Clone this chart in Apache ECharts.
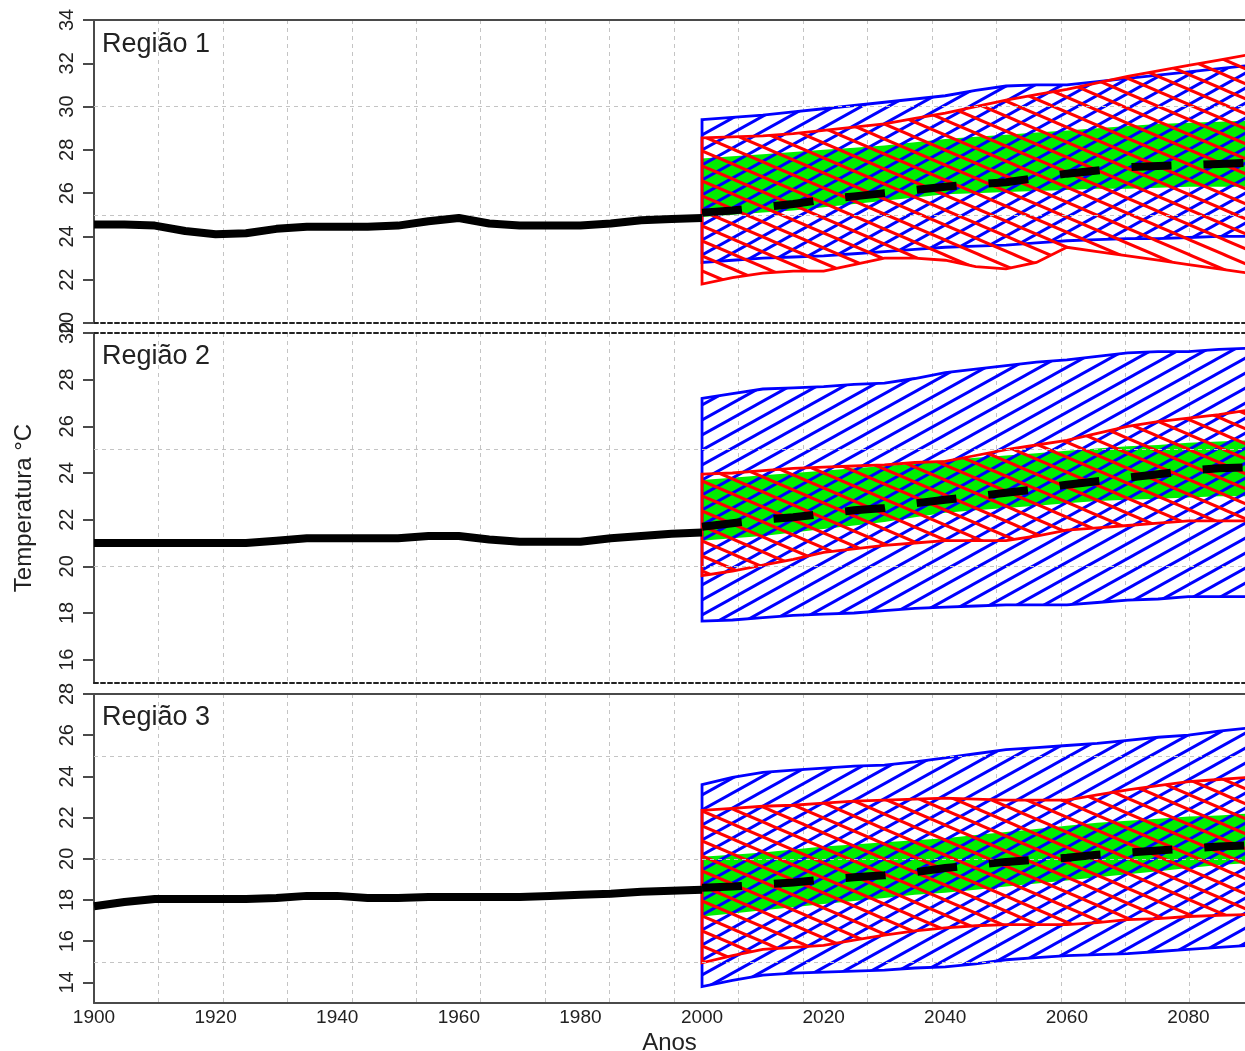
<!DOCTYPE html>
<html><head><meta charset="utf-8">
<script src="https://cdn.jsdelivr.net/npm/echarts/dist/echarts.min.js"></script>
<style>html,body{margin:0;padding:0;background:#fff}#c{width:1245px;height:1051px}</style>
</head><body><div id="c"></div>
<script>
// ---------- DATA ----------
const histYears = [1900,1905,1910,1915,1920,1925,1930,1935,1940,1945,1950,1955,1960,1965,1970,1975,1980,1985,1990,1995,2000];
const projYears = [2000,2005,2010,2015,2020,2025,2030,2035,2040,2045,2050,2055,2060,2065,2070,2075,2080,2085,2090];
const xTickYears = [1900,1920,1940,1960,1980,2000,2020,2040,2060,2080];

// Região 1
const hist1  = [24.55,24.55,24.5,24.25,24.1,24.15,24.35,24.45,24.45,24.45,24.5,24.7,24.85,24.6,24.5,24.5,24.5,24.6,24.75,24.8,24.85];
const mean1  = [25.1,25.2,25.35,25.5,25.7,25.85,26.0,26.15,26.3,26.4,26.5,26.7,26.9,27.05,27.2,27.25,27.3,27.35,27.4];
const green1Lo = [24.9,25.0,25.1,25.2,25.35,25.5,25.65,25.8,25.95,26.0,26.05,26.1,26.15,26.2,26.2,26.25,26.3,26.3,26.3];
const green1Hi = [27.6,27.7,27.8,27.9,28.0,28.1,28.2,28.35,28.5,28.6,28.7,28.8,28.9,29.0,29.1,29.2,29.25,29.3,29.35];
const blue1Lo = [22.8,22.9,23.0,23.05,23.1,23.2,23.3,23.4,23.5,23.55,23.6,23.7,23.8,23.85,23.9,23.9,23.95,24.0,24.0];
const blue1Hi = [29.4,29.5,29.6,29.75,29.9,30.05,30.2,30.35,30.5,30.75,30.95,31.0,31.0,31.15,31.3,31.45,31.6,31.75,31.9];
const red1Lo  = [21.8,22.1,22.3,22.4,22.4,22.7,23.0,23.0,22.9,22.6,22.5,22.8,23.5,23.3,23.1,22.9,22.7,22.5,22.3];
const red1Hi  = [28.55,28.6,28.65,28.75,28.9,29.05,29.2,29.45,29.7,30.0,30.3,30.55,30.8,31.1,31.4,31.65,31.9,32.15,32.4];
const yTicks1 = [20,22,24,26,28,30,32,34];
const hGrid1 = [25,30];

// Região 2
const hist2  = [21.0,21.0,21.0,21.0,21.0,21.0,21.1,21.2,21.2,21.2,21.2,21.3,21.3,21.15,21.05,21.05,21.05,21.2,21.3,21.4,21.45];
const mean2  = [21.7,21.85,22.0,22.1,22.25,22.4,22.5,22.7,22.85,23.0,23.15,23.3,23.5,23.65,23.8,23.95,24.1,24.2,24.25];
const green2Lo = [21.1,21.2,21.3,21.45,21.6,21.75,21.9,22.1,22.3,22.4,22.5,22.6,22.7,22.8,22.85,22.9,22.95,23.0,23.0];
const green2Hi = [23.7,23.8,23.9,24.0,24.1,24.2,24.3,24.4,24.55,24.65,24.75,24.85,24.95,25.05,25.15,25.2,25.3,25.35,25.4];
const blue2Lo = [17.65,17.7,17.8,17.9,17.95,18.0,18.1,18.2,18.25,18.3,18.35,18.35,18.35,18.45,18.55,18.6,18.7,18.7,18.7];
const blue2Hi = [27.2,27.4,27.6,27.65,27.7,27.8,27.85,28.05,28.3,28.45,28.6,28.75,28.85,29.0,29.15,29.2,29.2,29.3,29.35];
const red2Lo  = [19.6,19.8,20.05,20.3,20.6,20.75,20.9,21.0,21.1,21.1,21.1,21.3,21.55,21.65,21.75,21.85,21.95,21.95,21.95];
const red2Hi  = [23.95,24.0,24.1,24.2,24.25,24.3,24.35,24.45,24.5,24.75,25.0,25.2,25.4,25.7,26.0,26.2,26.35,26.5,26.7];
const yTicks2 = [16,18,20,22,24,26,28,30];
const hGrid2 = [20,25];

// Região 3
const hist3  = [17.7,17.9,18.05,18.05,18.05,18.05,18.1,18.2,18.2,18.1,18.1,18.15,18.15,18.15,18.15,18.2,18.25,18.3,18.4,18.45,18.5];
const mean3  = [18.6,18.65,18.75,18.85,19.0,19.1,19.2,19.35,19.55,19.7,19.85,19.95,20.05,20.2,20.3,20.4,20.5,20.6,20.65];
const green3Lo = [17.2,17.35,17.5,17.65,17.8,17.95,18.1,18.25,18.35,18.5,18.65,18.8,18.95,19.1,19.25,19.4,19.55,19.7,19.8];
const green3Hi = [20.1,20.2,20.3,20.45,20.6,20.7,20.8,20.9,21.0,21.15,21.3,21.45,21.6,21.75,21.85,21.95,22.05,22.1,22.2];
const blue3Lo = [13.8,14.1,14.35,14.45,14.5,14.55,14.6,14.7,14.75,14.9,15.1,15.2,15.3,15.35,15.4,15.5,15.6,15.7,15.8];
const blue3Hi = [23.6,23.95,24.2,24.3,24.4,24.5,24.55,24.7,24.9,25.1,25.3,25.4,25.5,25.6,25.75,25.9,26.0,26.2,26.35];
const red3Lo  = [14.95,15.3,15.6,15.7,15.8,16.05,16.3,16.5,16.65,16.75,16.8,16.8,16.8,16.9,17.05,17.1,17.2,17.25,17.3];
const red3Hi  = [22.35,22.45,22.55,22.6,22.7,22.8,22.85,22.9,22.95,22.9,22.85,22.85,22.85,23.1,23.35,23.55,23.75,23.85,23.95];
const yTicks3 = [14,16,18,20,22,24,26,28];
const hGrid3 = [15,20,25];

const panelNames = ['Região 1','Região 2','Região 3'];
// ---------- END DATA ----------

const panels = [
  {ymin:20, ymax:34, ticks:yTicks1, hgrid:hGrid1, hist:hist1, mean:mean1, gLo:green1Lo, gHi:green1Hi, bLo:blue1Lo, bHi:blue1Hi, rLo:red1Lo, rHi:red1Hi},
  {ymin:15, ymax:30, ticks:yTicks2, hgrid:hGrid2, hist:hist2, mean:mean2, gLo:green2Lo, gHi:green2Hi, bLo:blue2Lo, bHi:blue2Hi, rLo:red2Lo, rHi:red2Hi},
  {ymin:13, ymax:28, ticks:yTicks3, hgrid:hGrid3, hist:hist3, mean:mean3, gLo:green3Lo, gHi:green3Hi, bLo:blue3Lo, bHi:blue3Hi, rLo:red3Lo, rHi:red3Hi}
];

function hatch(color, w, h, up) {
  const c = document.createElement('canvas'); c.width = w; c.height = h;
  const g = c.getContext('2d'); g.strokeStyle = color; g.lineWidth = 3;
  for (let k = -1; k <= 1; k++) {
    g.beginPath();
    if (up) { g.moveTo(-2, h + k*h + 2*h/w); g.lineTo(w+2, k*h - 2*h/w); }
    else { g.moveTo(-2, k*h - 2*h/w); g.lineTo(w+2, h + k*h + 2*h/w); }
    g.stroke();
  }
  return c;
}
const bluePat = {image: hatch('#0000ff', 27, 15, true), repeat: 'repeat'};
const redPat  = {image: hatch('#ff0000', 35, 15, false), repeat: 'repeat'};

const FONT = 'Liberation Sans, Arial, sans-serif';
const AX = '#4a4a4a';
const XMIN = 1900, XMAX = 2089.3;
const boxes = [{top:20,height:303},{top:333,height:350},{top:694,height:309}];
const borderTop = ['solid','dashed','solid'];
const borderBottom = ['dashed','dashed','solid'];
const titleTops = [31, 343, 704];
const lineStyleFor = t => t === 'solid' ? {color:AX, width:2} : {color:'#222', width:2, type:[4,3]};

const grid = [], xAxis = [], yAxis = [], series = [], title = [];

function band(i, lo, hi, fill, stroke, z) {
  return {
    type:'custom', xAxisIndex:i*3, yAxisIndex:i, z:z, silent:true, data:[0],
    renderItem: function(params, api) {
      const pts = [];
      for (let k = 0; k < projYears.length; k++) pts.push(api.coord([projYears[k], hi[k]]));
      for (let k = projYears.length - 1; k >= 0; k--) pts.push(api.coord([projYears[k], lo[k]]));
      return {type:'polygon', shape:{points:pts},
        style: stroke ? {fill:fill, stroke:stroke, lineWidth:2.8, lineJoin:'miter'} : {fill:fill}};
    }
  };
}

panels.forEach((p, i) => {
  grid.push({left:94, right:0, top:boxes[i].top, height:boxes[i].height,
    containLabel:false, outerBoundsMode:'none'});
  xAxis.push({gridIndex:i, type:'value', min:XMIN, max:XMAX, interval:20, position:'bottom',
    axisLine:{show:true, onZero:false, lineStyle:lineStyleFor(borderBottom[i])},
    axisTick:{show:false}, splitLine:{show:false},
    axisLabel:{show:i===2, fontSize:19, color:'#222', fontFamily:FONT, margin:5,
      customValues: xTickYears, formatter: v => String(v)},
    name: i===2 ? 'Anos' : '', nameLocation:'middle', nameGap:28,
    nameTextStyle:{fontSize:24, color:'#222', fontFamily:FONT}});
  xAxis.push({gridIndex:i, type:'value', min:XMIN, max:XMAX, position:'top',
    axisLine:{show:true, onZero:false, lineStyle:lineStyleFor(borderTop[i])},
    axisTick:{show:false}, axisLabel:{show:false}, splitLine:{show:false}});
  xAxis.push({gridIndex:i, type:'value', min:0, max:XMAX-XMIN, interval:10.6, position:'bottom',
    axisLine:{show:false}, axisTick:{show:false}, axisLabel:{show:false},
    splitLine:{show:true, lineStyle:{color:'#c4c4c4', width:1, type:[4,4]}}});
  yAxis.push({gridIndex:i, type:'value', min:p.ymin, max:p.ymax, position:'left',
    axisLine:{show:true, onZero:false, lineStyle:{color:AX, width:2}},
    axisTick:{show:true, length:11, lineStyle:{color:AX, width:2}, customValues:p.ticks},
    axisLabel:{rotate:90, fontSize:20, color:'#222', fontFamily:FONT, margin:17, customValues:p.ticks},
    splitLine:{show:false},
    name: i===1 ? 'Temperatura °C' : '', nameLocation:'middle', nameGap:58,
    nameTextStyle:{fontSize:24, color:'#222', fontFamily:FONT}});

  series.push({type:'line', xAxisIndex:i*3, yAxisIndex:i, data:[], silent:true, z:0,
    markLine:{silent:true, symbol:'none', label:{show:false}, animation:false,
      lineStyle:{color:'#c4c4c4', type:[4,4], width:1},
      data: p.hgrid.map(v => ({yAxis:v}))}});
  series.push(band(i, p.gLo, p.gHi, '#00ee00', null, 1));
  series.push(band(i, p.bLo, p.bHi, bluePat, '#0000ff', 2));
  series.push(band(i, p.rLo, p.rHi, redPat, '#ff0000', 3));
  series.push({type:'line', xAxisIndex:i*3, yAxisIndex:i, z:5, symbol:'none', silent:true,
    data: projYears.map((y, k) => [y, p.mean[k]]),
    lineStyle:{color:'#000', width:8, type:[40,32], cap:'butt'}});
  series.push({type:'line', xAxisIndex:i*3, yAxisIndex:i, z:5, symbol:'none', silent:true,
    data: histYears.map((y, k) => [y, p.hist[k]]),
    lineStyle:{color:'#000', width:8}});
  title.push({text:panelNames[i], left:102, top:titleTops[i], padding:0,
    textStyle:{fontSize:27, fontWeight:'normal', color:'#222', fontFamily:FONT}});
});

const chart = echarts.init(document.getElementById('c'));
chart.setOption({animation:false, backgroundColor:'#fff', title, grid, xAxis, yAxis, series});
</script></body></html>
